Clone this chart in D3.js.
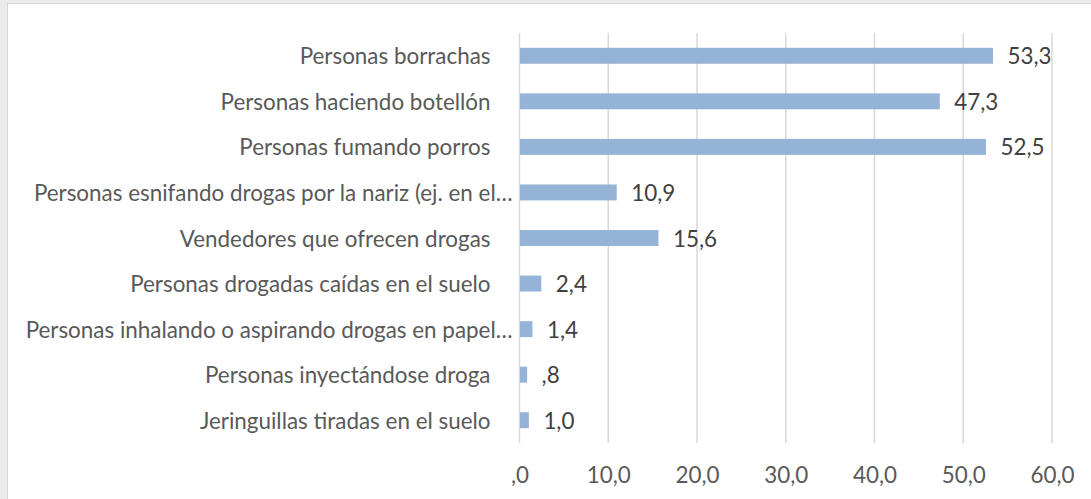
<!DOCTYPE html>
<html>
<head>
<meta charset="utf-8">
<script src="https://cdn.jsdelivr.net/npm/d3@7"></script>
<style>
  html, body { margin: 0; padding: 0; background: #ebebeb; }
  svg { display: block; }
  text { font-family: Lato, "Open Sans", sans-serif; fill: #595959; }
</style>
</head>
<body>
<svg id="chart" width="1091" height="499"></svg>
<script>
// categories top -> bottom, as they appear in the chart
let categories = [
  "Personas borrachas",
  "Personas haciendo botellón",
  "Personas fumando porros",
  "Personas esnifando drogas por la nariz (ej. en el…",
  "Vendedores que ofrecen drogas",
  "Personas drogadas caídas en el suelo",
  "Personas inhalando o aspirando drogas en papel…",
  "Personas inyectándose droga",
  "Jeringuillas tiradas en el suelo"
];
let values = [53.3, 47.3, 52.5, 10.9, 15.6, 2.4, 1.4, 0.8, 1.0];
let tickValues = [0, 10, 20, 30, 40, 50, 60];

let width = 1091, height = 499;
let svg = d3.select("#chart");

// white chart area with light border (runs off the right/bottom edge)
svg.append("rect")
  .attr("x", 7.5).attr("y", 3.5)
  .attr("width", 1200).attr("height", 600)
  .attr("fill", "#fff")
  .attr("stroke", "#d4d4d4");

let plotLeft = 519.5, plotRight = 1052, plotTop = 33, plotBottom = 443;

let x = d3.scaleLinear().domain([0, 60]).range([plotLeft, plotRight]);
let y = d3.scaleBand().domain(categories).range([plotTop, plotBottom]).paddingInner(0.65).paddingOuter(0.325);

// excel style number: comma decimal, no leading zero
function fmt(v) {
  let s = v.toFixed(1).replace(".", ",");
  if (s.startsWith("0")) s = s.slice(1);
  return s;
}

// grid lines
svg.append("g")
  .selectAll("line")
  .data(tickValues)
  .join("line")
  .attr("x1", d => x(d)).attr("x2", d => x(d))
  .attr("y1", plotTop).attr("y2", plotBottom)
  .attr("stroke", "#d9d9d9")
  .attr("stroke-width", 1.5);

// bars
svg.append("g")
  .selectAll("rect")
  .data(values)
  .join("rect")
  .attr("x", x(0) + 0.5)
  .attr("y", (d, i) => y(categories[i]))
  .attr("width", d => x(d) - x(0))
  .attr("height", y.bandwidth())
  .attr("fill", "#95b3d7");

// category labels
let fontSize = 18;
let labels = svg.append("g")
  .selectAll("text")
  .data(categories)
  .join("text")
  .attr("text-anchor", "end")
  .attr("dominant-baseline", "central")
  .attr("y", d => y(d) + y.bandwidth() / 2)
  .attr("x", d => d.endsWith("…") ? plotLeft - 7 : plotLeft - 29)
  .style("font-size", fontSize + "px")
  .text(d => d);

// fit font size so the longest label spans like the original
let longest = d3.max(labels.nodes(), n => n.getComputedTextLength());
fontSize = fontSize * 487 / longest;
labels.style("font-size", fontSize + "px");

// value labels
svg.append("g")
  .selectAll("text")
  .data(values)
  .join("text")
  .attr("dominant-baseline", "central")
  .attr("x", d => x(d) + 15)
  .attr("y", (d, i) => y(categories[i]) + y.bandwidth() / 2)
  .style("font-size", fontSize + "px")
  .style("fill", "#404040")
  .text(fmt);

// x axis
let axis = svg.append("g")
  .attr("transform", "translate(0," + (plotBottom + 31) + ")")
  .call(d3.axisBottom(x).tickValues(tickValues).tickSize(0).tickPadding(0).tickFormat(fmt));
axis.select(".domain").remove();
axis.selectAll("text")
  .attr("dy", "0")
  .attr("dominant-baseline", "central")
  .style("font-size", fontSize + "px")
  .style("font-family", "Lato, 'Open Sans', sans-serif")
  .style("fill", "#595959");
</script>
</body>
</html>
